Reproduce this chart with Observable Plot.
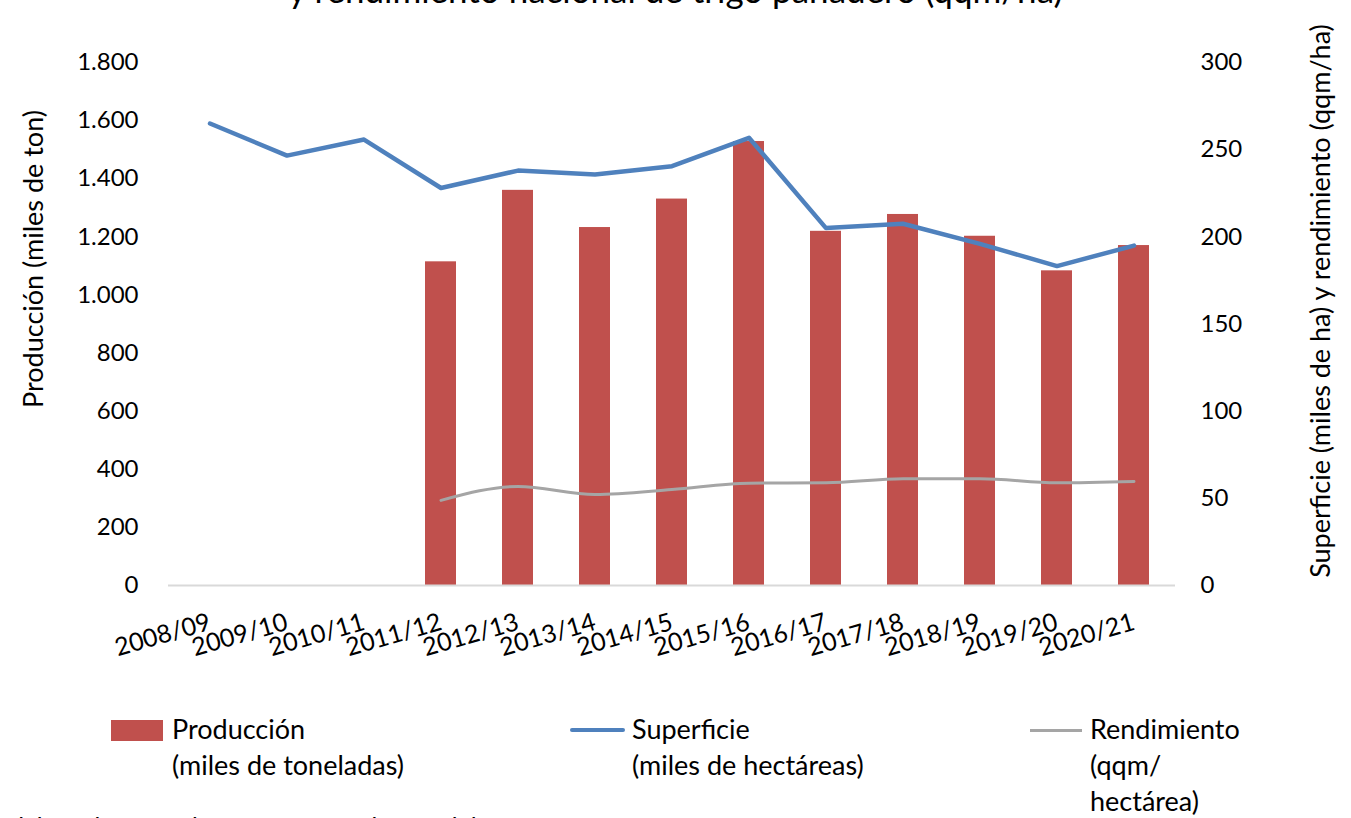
<!DOCTYPE html>
<html>
<head>
<meta charset="utf-8">
<script src="https://cdn.jsdelivr.net/npm/d3@7"></script>
<script src="https://cdn.jsdelivr.net/npm/@observablehq/plot@0.6"></script>
<style>
  html, body { margin: 0; padding: 0; background: #fff; overflow: hidden; }
  body { width: 1351px; height: 818px; position: relative; font-family: Lato, "Noto Sans", sans-serif; color: #000; }
  #title { position: absolute; left: 0; width: 1351px; top: -74px; text-align: center; font-size: 35px; line-height: 42px; }
  #chart { position: absolute; left: 0; top: 0; }
  .leg { position: absolute; font-size: 27px; line-height: 36px; }
  .sw { position: absolute; }
  #caption { position: absolute; left: 4px; top: 811px; font-size: 25px; line-height: 30px; }
</style>
</head>
<body>
<div id="title">Producción, superficie<br>y rendimiento nacional de trigo panadero (qqm/ha)</div>
<div id="chart"></div>
<div class="sw" style="left:111px;top:720px;width:52px;height:21px;background:#C0504D;"></div>
<div class="leg" style="left:172px;top:711px;">Producción<br>(miles de toneladas)</div>
<div class="sw" style="left:570px;top:728px;width:55px;height:4px;background:#4F81BD;border-radius:2px;"></div>
<div class="leg" style="left:632px;top:711px;">Superficie<br>(miles de hectáreas)</div>
<div class="sw" style="left:1030px;top:729px;width:52px;height:3px;background:#A5A5A5;"></div>
<div class="leg" style="left:1090px;top:711px;">Rendimiento<br>(qqm/<br>hectárea)</div>
<div id="caption">Elaborado por Odepa con antecedentes del INE.</div>
<script>
const temporadas = ["2008/09","2009/10","2010/11","2011/12","2012/13","2013/14","2014/15","2015/16","2016/17","2017/18","2018/19","2019/20","2020/21"];
const produccion = [null, null, null, 1114, 1360, 1232, 1330, 1528, 1219, 1277, 1202, 1083, 1170];
const superficie = [265, 246.6, 255.8, 228, 238, 235.8, 240.5, 256.8, 205, 207.5, 196, 183.2, 195];
const rendimiento = [null, null, null, 48.8, 56.8, 52.2, 55, 58.7, 58.9, 61.2, 61.2, 58.9, 59.7];
const leftTicks = [0, 200, 400, 600, 800, 1000, 1200, 1400, 1600, 1800];
const rightTicks = [0, 50, 100, 150, 200, 250, 300];

const ratio = 1800 / 300;
const rows = temporadas.map((t, i) => ({t, prod: produccion[i], sup: superficie[i], ren: rendimiento[i]}));
const es = d3.formatLocale({decimal: ",", thousands: ".", grouping: [3], currency: ["", ""]});
const fmt = es.format(",");

const chart = Plot.plot({
  width: 1351,
  height: 690,
  marginTop: 62,
  marginBottom: 105,
  marginLeft: 168,
  marginRight: 176,
  style: {fontFamily: "Lato, 'Noto Sans', sans-serif", fontSize: "24px", color: "#000", background: "transparent"},
  x: {domain: temporadas, paddingInner: 0.6, paddingOuter: 0.3, label: null},
  y: {domain: [0, 1800], label: null},
  marks: [
    Plot.barY(rows.filter(d => d.prod != null), {x: "t", y: "prod", fill: "#C0504D"}),
    Plot.ruleY([0], {stroke: "#d9d9d9", strokeWidth: 2}),
    Plot.line(rows, {x: "t", y: d => d.sup * ratio, stroke: "#4F81BD", strokeWidth: 4.5, strokeLinejoin: "round", strokeLinecap: "round"}),
    Plot.line(rows.filter(d => d.ren != null), {x: "t", y: d => d.ren * ratio, stroke: "#A5A5A5", strokeWidth: 3, curve: "monotone-x"}),
    Plot.axisY(leftTicks, {anchor: "left", tickSize: 0, tickPadding: 30, tickFormat: fmt, label: null, fontSize: 24}),
    Plot.axisY(rightTicks.map(v => v * ratio), {anchor: "right", tickSize: 0, tickPadding: 25, tickFormat: v => String(Math.round(v / ratio)), label: null, fontSize: 24}),
    Plot.axisX({anchor: "bottom", tickSize: 0, tickPadding: 36, tickRotate: -16, label: null, fontSize: 25}),
    Plot.text(["Producción (miles de ton)"], {frameAnchor: "left", dx: -134, dy: -65, rotate: -90, fontSize: 27, textAnchor: "middle"}),
    Plot.text(["Superficie (miles de ha) y rendimiento (qqm/ha)"], {frameAnchor: "right", dx: 146, dy: -23, rotate: -90, fontSize: 27, textAnchor: "middle"})
  ]
});
document.getElementById("chart").appendChild(chart);
</script>
</body>
</html>
